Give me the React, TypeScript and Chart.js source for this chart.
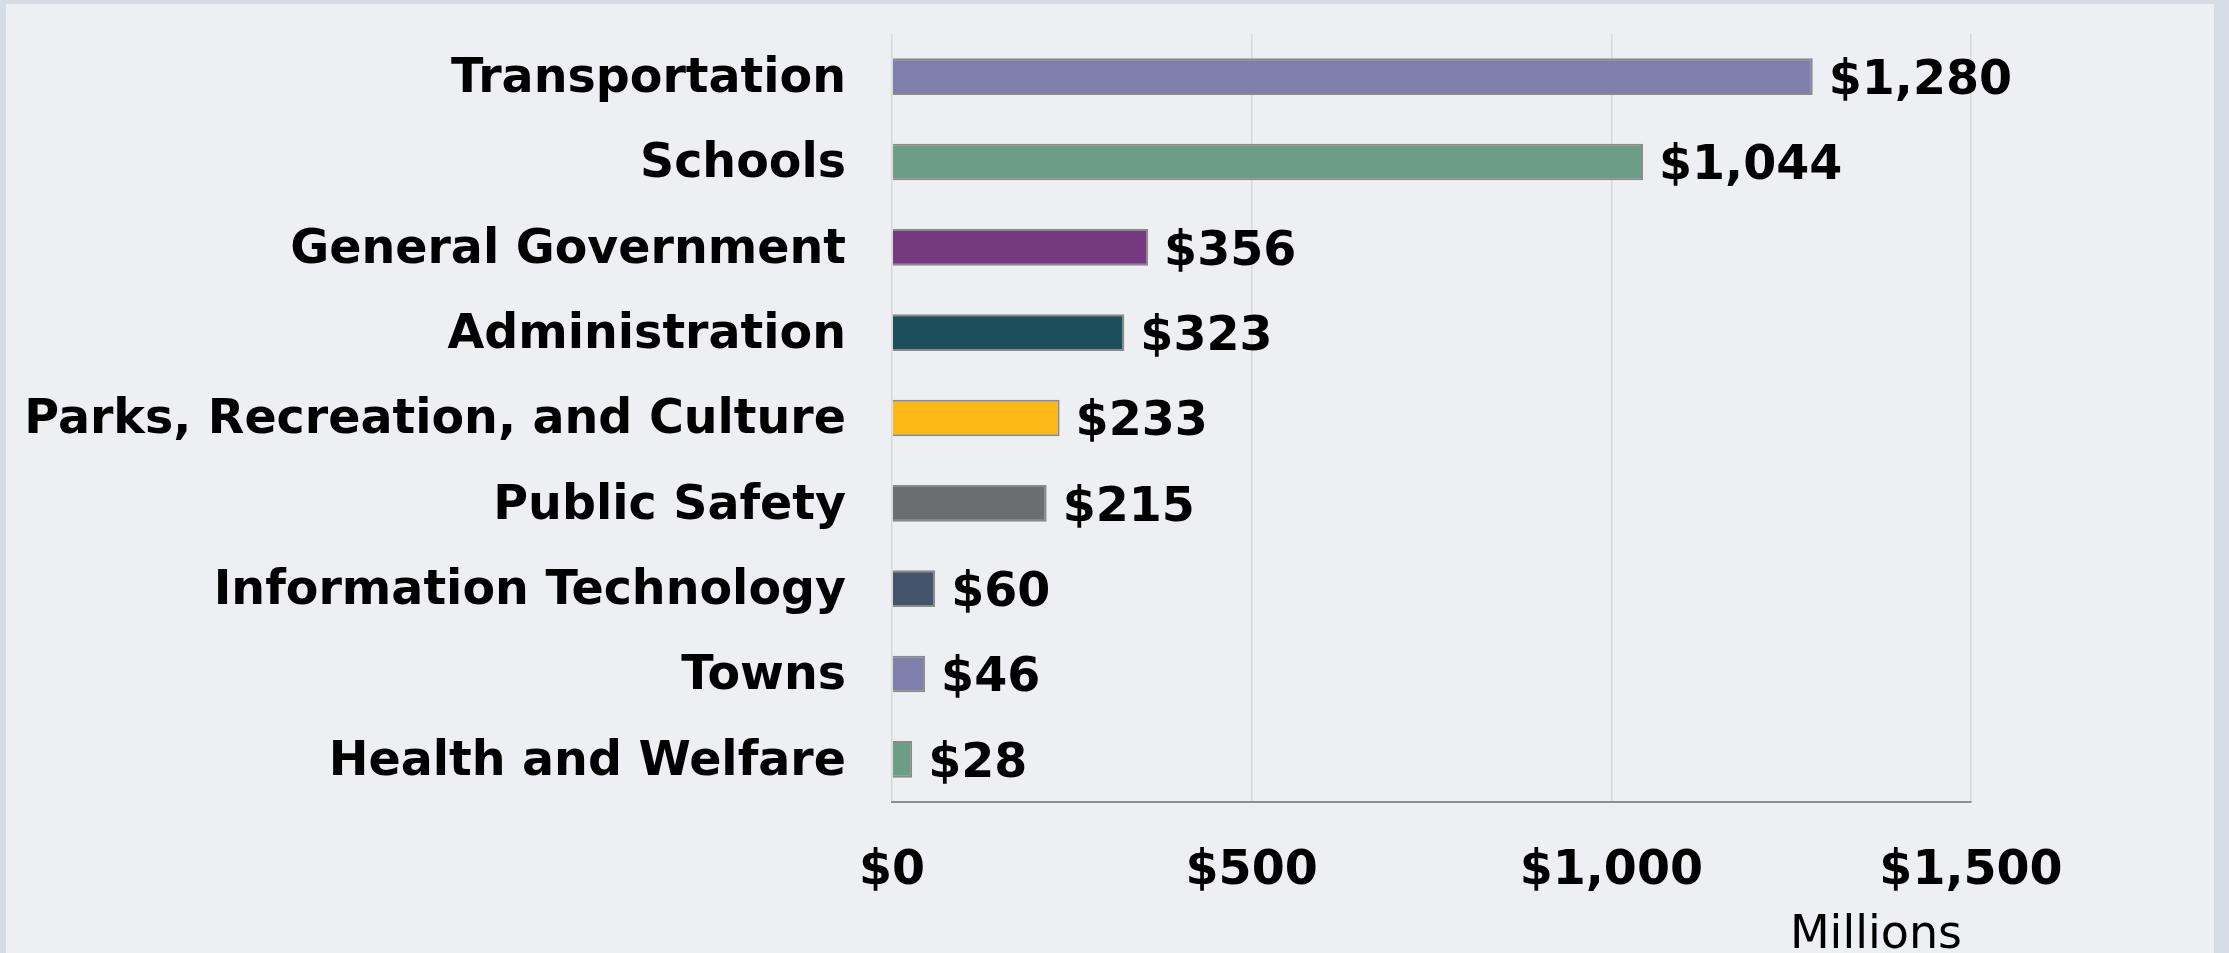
import React, { useEffect, useRef } from "react";
import { Chart, registerables } from "chart.js";

Chart.register(...registerables);

const categories = [
  "Transportation",
  "Schools",
  "General Government",
  "Administration",
  "Parks, Recreation, and Culture",
  "Public Safety",
  "Information Technology",
  "Towns",
  "Health and Welfare",
];
const values = [1280, 1044, 356, 323, 233, 215, 60, 46, 28];
const barColors = [
  "#7f7fab",
  "#6b9e84",
  "#76387f",
  "#1c4e5b",
  "#fcb816",
  "#6c6d70",
  "#44546a",
  "#7f7fab",
  "#6b9e84",
];
const xTicks = [0, 500, 1000, 1500];
const axisTitle = "Millions";

const FONT = "'DejaVu Sans', Verdana, sans-serif";
const BOLD_SIZE = 47.5;
const fmt = (v: number) => "$" + v.toLocaleString("en-US");

const dataLabels = {
  id: "dataLabels",
  afterDatasetsDraw(chart: any) {
    const ctx = chart.ctx;
    const meta = chart.getDatasetMeta(0);
    ctx.save();
    ctx.font = `bold ${BOLD_SIZE}px ${FONT}`;
    ctx.fillStyle = "#000";
    ctx.textAlign = "left";
    ctx.textBaseline = "middle";
    meta.data.forEach((bar: any, i: number) => {
      ctx.fillText(fmt(values[i]), bar.x + 16, bar.y + 5);
    });
    ctx.restore();
  },
};

const axisTitlePlugin = {
  id: "axisTitlePlugin",
  afterDraw(chart: any) {
    const ctx = chart.ctx;
    const xScale = chart.scales.x;
    ctx.save();
    ctx.font = `46px ${FONT}`;
    ctx.fillStyle = "#000";
    ctx.textAlign = "right";
    ctx.textBaseline = "middle";
    ctx.fillText(axisTitle, xScale.right - 9, 936);
    ctx.restore();
  },
};

export default function App() {
  const ref = useRef<HTMLCanvasElement | null>(null);

  useEffect(() => {
    document.body.style.margin = "0";
    const canvas = ref.current!;
    const chart = new Chart(canvas, {
      type: "bar",
      data: {
        labels: categories,
        datasets: [
          {
            data: values,
            backgroundColor: barColors,
            borderColor: "#8a8a8a",
            borderWidth: 2,
            barPercentage: 0.43,
            categoryPercentage: 1,
          },
        ],
      },
      options: {
        indexAxis: "y",
        animation: false,
        responsive: false,
        maintainAspectRatio: false,
        layout: { padding: { left: 0, right: 258, top: 34, bottom: 0 } },
        plugins: {
          legend: { display: false },
          tooltip: { enabled: false },
        },
        scales: {
          x: {
            min: 0,
            max: 1500,
            afterBuildTicks: (scale: any) => {
              scale.ticks = xTicks.map((v) => ({ value: v }));
            },
            afterFit: (scale: any) => {
              scale.height = 171;
              scale.paddingLeft = 0;
              scale.paddingRight = 0;
            },
            ticks: {
              callback: (v: any) => fmt(Number(v)),
              color: "#000",
              font: { family: FONT, size: BOLD_SIZE, weight: "bold" },
              padding: 41,
              maxRotation: 0,
              autoSkip: false,
            },
            grid: {
              color: "#d8d8d8",
              lineWidth: 1.5,
              drawTicks: false,
            },
            border: { display: true, color: "#8f8f8f", width: 2 },
            title: { display: false, text: axisTitle },
          },
          y: {
            afterFit: (scale: any) => {
              scale.width = 892;
              scale.paddingTop = 0;
              scale.paddingBottom = 0;
            },
            ticks: {
              color: "#000",
              font: { family: FONT, size: BOLD_SIZE, weight: "bold" },
              padding: 46,
              labelOffset: 3,
              autoSkip: false,
            },
            grid: { display: false, drawTicks: false },
            border: { display: false },
          },
        },
      },
      plugins: [dataLabels, axisTitlePlugin],
    });
    return () => chart.destroy();
  }, []);

  return (
    <div
      style={{
        position: "relative",
        width: 2229,
        height: 953,
        overflow: "hidden",
        background: "#d6dce5",
      }}
    >
      <div
        style={{
          position: "absolute",
          left: 6,
          top: 4,
          width: 2208,
          height: 960,
          background: "#eeeff3",
        }}
      />
      <canvas
        ref={ref}
        width={2229}
        height={973}
        style={{ position: "absolute", left: 0, top: 0, width: 2229, height: 973 }}
      />
    </div>
  );
}
